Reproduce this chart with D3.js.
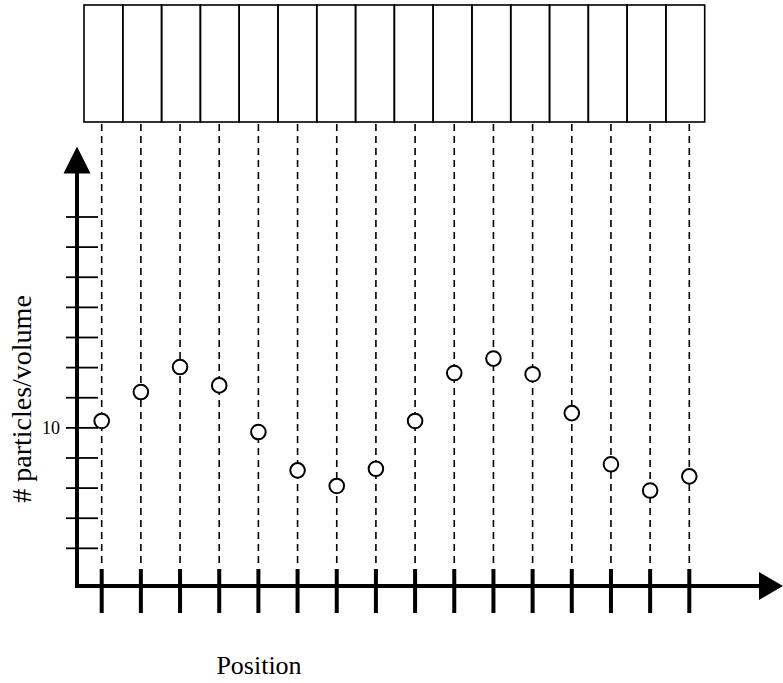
<!DOCTYPE html>
<html lang="en">
<head>
    <meta charset="UTF-8">
    <title>Particles per volume</title>
    <style>
        body { margin: 0; background: #fff; }
        svg { display: block; }
        svg text { font-family: "Liberation Serif", "DejaVu Serif", serif; fill: #000; }
    </style>
</head>
<body>
    <div id="chart"></div>

    <script src="https://d3js.org/d3.v7.min.js"></script>
    <script>
        // one cell of the tube per position
        const positions = [1, 2, 3, 4, 5, 6, 7, 8, 9, 10, 11, 12, 13, 14, 15, 16];
        // measured particles per volume in each cell
        const density = [10.23, 11.19, 12.02, 11.41, 9.86, 8.59, 8.07, 8.64,
                         10.23, 11.82, 12.30, 11.78, 10.49, 8.79, 7.92, 8.39];
        const yTicks = [6, 7, 8, 9, 10, 11, 12, 13, 14, 15, 16, 17];
        const yTickLabels = [10];

        const width = 783;
        const height = 683;

        const svg = d3.select("#chart")
            .append("svg")
            .attr("width", width)
            .attr("height", height);

        const x = d3.scalePoint().domain(positions).range([101.7, 689.3]);
        const cells = d3.scaleBand().domain(positions).range([84, 704.7]);
        const y = d3.scaleLinear().domain([4.75, 17]).range([586, 217]);

        const axisX = 77;      // where the vertical axis sits
        const axisY = y(4.75); // where the horizontal axis sits

        // row of cells at the top
        svg.selectAll(".cell")
            .data(positions)
            .enter()
            .append("rect")
            .attr("class", "cell")
            .attr("x", d => cells(d))
            .attr("y", 5)
            .attr("width", cells.bandwidth())
            .attr("height", 117)
            .attr("fill", "none")
            .attr("stroke", "#000")
            .attr("stroke-width", 1.6);

        // dashed guide from each cell down to the axis
        svg.selectAll(".guide")
            .data(positions)
            .enter()
            .append("line")
            .attr("class", "guide")
            .attr("x1", d => x(d))
            .attr("x2", d => x(d))
            .attr("y1", 124)
            .attr("y2", 566)
            .attr("stroke", "#000")
            .attr("stroke-width", 1.6)
            .attr("stroke-dasharray", "7,5");

        // y ticks
        svg.selectAll(".ytick")
            .data(yTicks)
            .enter()
            .append("line")
            .attr("class", "ytick")
            .attr("x1", axisX - 11)
            .attr("x2", axisX + 21)
            .attr("y1", d => y(d))
            .attr("y2", d => y(d))
            .attr("stroke", "#000")
            .attr("stroke-width", 1.8);

        svg.selectAll(".ylabel")
            .data(yTickLabels)
            .enter()
            .append("text")
            .attr("class", "ylabel")
            .attr("x", 60)
            .attr("y", d => y(d) + 6)
            .attr("text-anchor", "end")
            .attr("font-size", 18)
            .text(d => d);

        // x ticks (thick)
        svg.selectAll(".xtick")
            .data(positions)
            .enter()
            .append("line")
            .attr("class", "xtick")
            .attr("x1", d => x(d))
            .attr("x2", d => x(d))
            .attr("y1", 569)
            .attr("y2", 613)
            .attr("stroke", "#000")
            .attr("stroke-width", 4);

        // axes with arrow heads
        svg.append("line")
            .attr("x1", axisX)
            .attr("x2", axisX)
            .attr("y1", axisY + 2)
            .attr("y2", 170)
            .attr("stroke", "#000")
            .attr("stroke-width", 4);

        svg.append("path")
            .attr("d", `M${axisX},146.5 L${axisX - 13.5},173.5 L${axisX + 13.5},173.5 Z`)
            .attr("fill", "#000");

        svg.append("line")
            .attr("x1", axisX - 2)
            .attr("x2", 762)
            .attr("y1", axisY)
            .attr("y2", axisY)
            .attr("stroke", "#000")
            .attr("stroke-width", 4);

        svg.append("path")
            .attr("d", `M783,${axisY} L759,${axisY - 14} L759,${axisY + 14} Z`)
            .attr("fill", "#000");

        // data points
        svg.selectAll(".point")
            .data(positions)
            .enter()
            .append("circle")
            .attr("class", "point")
            .attr("cx", d => x(d))
            .attr("cy", (d, i) => y(density[i]))
            .attr("r", 7.3)
            .attr("fill", "#fff")
            .attr("stroke", "#000")
            .attr("stroke-width", 2);

        // axis titles
        svg.append("text")
            .attr("x", 259)
            .attr("y", 674)
            .attr("text-anchor", "middle")
            .attr("font-size", 26)
            .text("Position");

        svg.append("text")
            .attr("transform", "translate(31,399) rotate(-90)")
            .attr("text-anchor", "middle")
            .attr("font-size", 28)
            .text("# particles/volume");
    </script>
</body>
</html>
